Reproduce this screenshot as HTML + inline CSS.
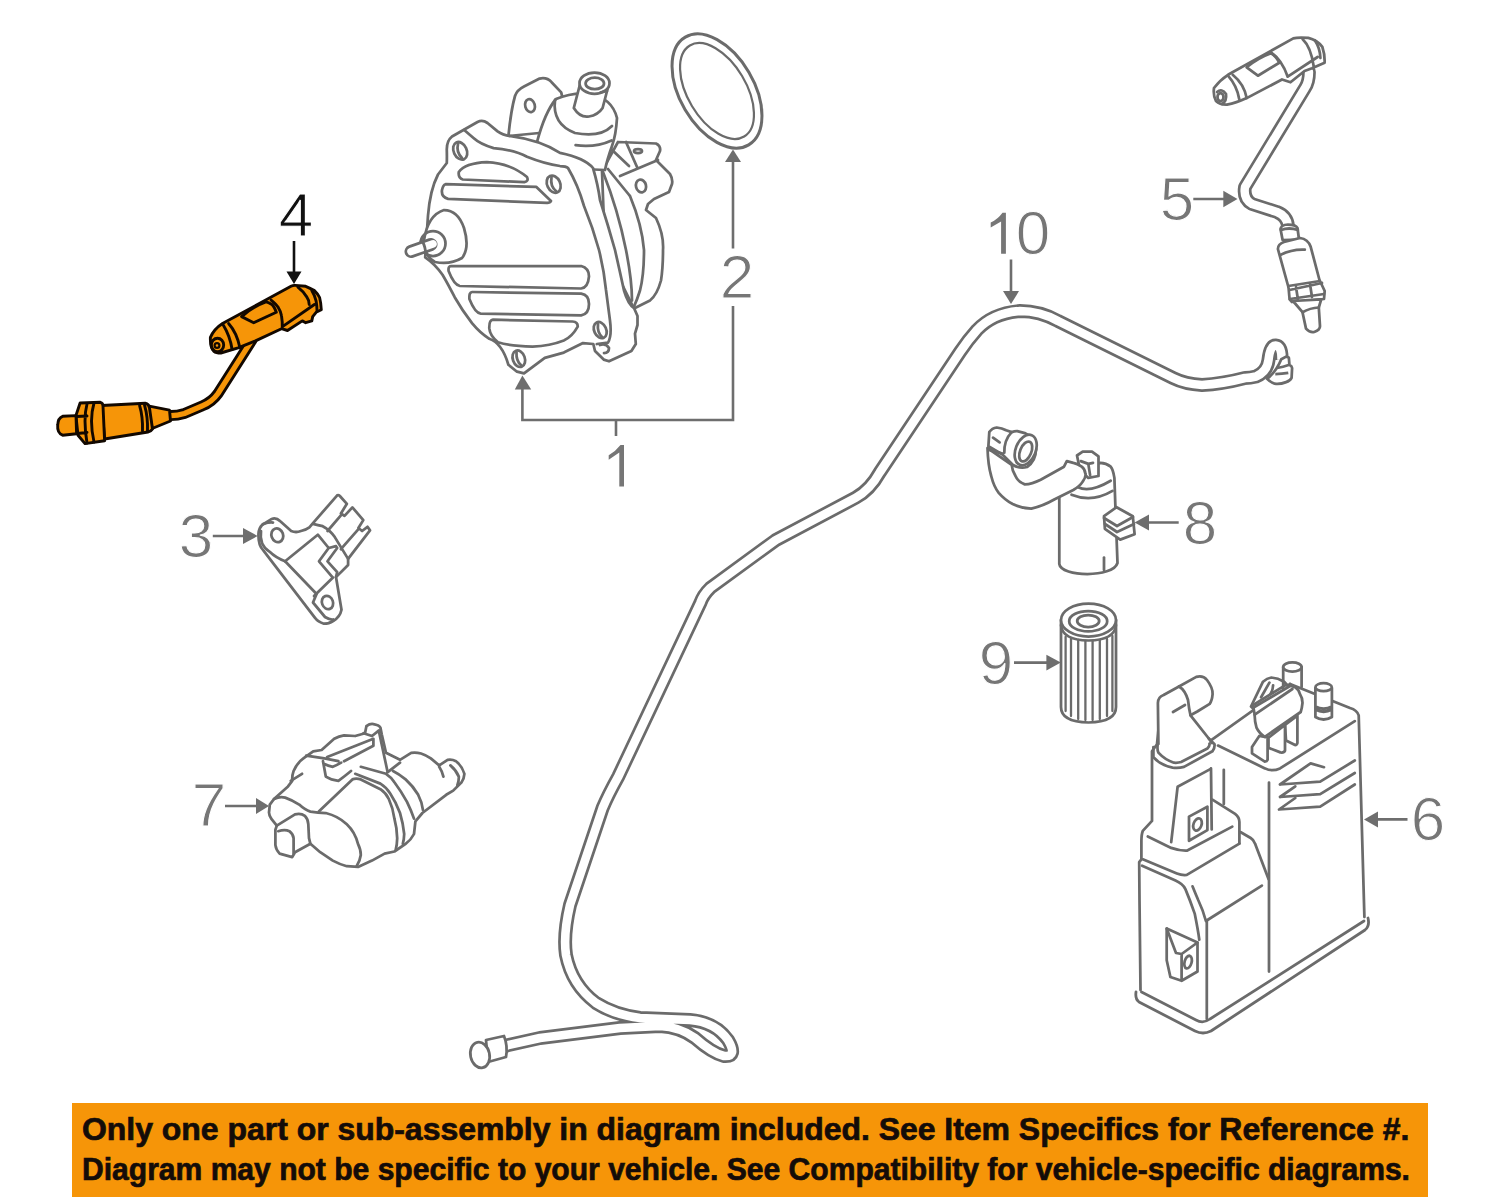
<!DOCTYPE html>
<html><head><meta charset="utf-8">
<style>
html,body{margin:0;padding:0;background:#fff;width:1500px;height:1197px;overflow:hidden}
svg{position:absolute;left:0;top:0}
.banner{position:absolute;left:72px;top:1103px;width:1355.5px;height:94px;background:#f69508}
.t{position:absolute;left:0;white-space:nowrap;font-family:"Liberation Sans",sans-serif;font-weight:bold;color:#140c08;font-size:31px;-webkit-text-stroke:0.7px #140c08;transform-origin:0 0}
</style></head><body>
<svg width="1500" height="1197" viewBox="0 0 1500 1197">
<g id="hose" fill="none" stroke-linejoin="round" stroke-linecap="butt">
<path id="hp" d="M1281.5 360 Q1282 346 1275.5 345.5 Q1270 345.5 1268.5 360 Q1267 372 1256 376.5 Q1250 378 1245 378 Q1222 384 1202 385 Q1185 384 1173 378 L1058 321 Q1040 311 1020 311 Q993 313 977 330 Q968 340 960 352 L880 472 Q870 490 855.7 497.7 L775.5 540.3 L710.3 587.9 Q703 595 700.3 603 L618.4 776.3 Q608 795 602.6 808 L570 905 Q563 935 566 955 Q572 985 596 1003 Q615 1015 640 1018 L690 1020 Q715 1022 728 1040 Q738 1057 724 1056 Q712 1053 695 1038 Q680 1027 660 1026 L620 1028 L540 1038 L500 1047" stroke="#6b6b6b" stroke-width="14"/>
<path d="M1281.5 360 Q1282 346 1275.5 345.5 Q1270 345.5 1268.5 360 Q1267 372 1256 376.5 Q1250 378 1245 378 Q1222 384 1202 385 Q1185 384 1173 378 L1058 321 Q1040 311 1020 311 Q993 313 977 330 Q968 340 960 352 L880 472 Q870 490 855.7 497.7 L775.5 540.3 L710.3 587.9 Q703 595 700.3 603 L618.4 776.3 Q608 795 602.6 808 L570 905 Q563 935 566 955 Q572 985 596 1003 Q615 1015 640 1018 L690 1020 Q715 1022 728 1040 Q738 1057 724 1056 Q712 1053 695 1038 Q680 1027 660 1026 L620 1028 L540 1038 L500 1047" stroke="#fff" stroke-width="8.6"/>
<g stroke="#6b6b6b" stroke-width="2.75" fill="#fff" stroke-linejoin="round">
<path d="M1281.3 359.3 L1286.1 356.6 Q1289 357 1288.9 358.2 L1289.4 364.7 Q1292 366 1292.1 368 L1291.6 377.8 Q1290 381 1286.1 382.1 Q1280 384.5 1274.7 383.7 Q1270 382 1267.1 378.9 Q1276 372 1281.3 359.3 Z"/>
<path d="M1276.9 368 Q1283 367 1289.4 364.7 M1275.3 374 Q1282 374 1288.3 372.9" fill="none"/>
<path d="M486 1040 L504 1036 Q508 1046 506 1057 L488 1062 Z"/>
<ellipse cx="480" cy="1055" rx="9.5" ry="13" transform="rotate(-12 480 1055)"/>
</g>
</g>
<g id="pump" stroke="#6b6b6b" stroke-width="2.75" fill="#fff" stroke-linejoin="round" stroke-linecap="round">
<!-- right ear -->
<path d="M602 171 L618 142 L656 143.5 Q661 146 660 151 L656 160 L670 174 Q673 179 672 184 L669 192 L654 199 L648 204 L646 210 L656 218 Q664 235 663 250 Q663 268 661 280.5 Q657 295 650 300.5 L634 308.5 L605 250 Z"/>
<ellipse cx="638" cy="151" rx="4" ry="2"/>
<ellipse cx="641" cy="186" rx="5" ry="6.5" transform="rotate(-15 641 186)"/>
<path d="M620 176 L658 160 M610 148 L629 166 M626 142 L637 167" fill="none"/>
<path d="M608 169 Q625 190 630 196 Q642 225 644 250 Q644 275 640 290.5 Q637 300 634 306.5" fill="none"/>
<path d="M603 172 Q618 210 626 250 Q632 280 632 300.5" fill="none"/>
<!-- left ear -->
<path d="M508.4 136 Q511 110 515 96 Q517 90 524 86.5 L539.6 78.6 Q547 77 551.6 82.2 L561.2 92.4 L570 130 Z"/>
<ellipse cx="530" cy="105.6" rx="4.8" ry="6.6" transform="rotate(-15 530 105.6)"/>
<!-- housing cylinder -->
<path d="M537 142 Q545 112 556 99 Q572 92 590 94 Q612 98 617 118 Q616 135 612 146 Q607 160 605 170 L560 168 Z"/>
<path d="M555 100 Q552 124 575 133 Q600 138 612 126" fill="none"/>
<path d="M575.6 145.2 Q595 148 611.6 140.4" fill="none"/>
<!-- top port -->
<path d="M579.8 85 L573.8 108 Q580 118 589 116.5 Q598 115 602.6 108 L608.6 85 Z"/>
<ellipse cx="594.5" cy="83.2" rx="15" ry="10.6"/>
<ellipse cx="594.8" cy="83.4" rx="9.2" ry="5.8" fill="none"/>
<path d="M600.5 92.5 L607 91" fill="none"/>
<!-- main body -->
<path d="M428 215.6 Q430 190 438 174.5 Q443 168 446.8 163 Q447 156 446.8 150.1 Q446.5 141 452 136.5 L477.5 122 Q482.5 119.5 487.5 123 L497.6 131.4 Q503 135.5 511 136.1 Q540 140 560 152.8 Q585 158 593 168 Q598 185 600 200 Q608 225 615 250 Q620 272 624 290.5 Q628 304 634 308 L637.5 316 L637.5 325 L635 333.6 L635.8 344 L631.4 351 L609 361.3 L603.7 359.6 L595 351 L593.3 344 L583 343.1 L563.8 352.6 L544.8 357.9 L524 373.4 L517 371.7 L508.4 364.8 Q502 343 489.3 338.8 Q480 333 472 323.2 Q462 310 454.7 297.2 Q448 284 442.5 274.7 Q435 264 425.2 257.3 Z"/>
<!-- flange inner edge -->
<path d="M464.2 130 L473.5 138 Q480 144 493.6 148.1 Q515 150 527 156.8 Q545 164 560 166 Q566 166 568 168 Q578 185 584 206 Q593 228 599 250 Q604 270 606 290 Q608 305 610 320.6 Q612 336 608 342.6 L596.8 344" fill="none"/>
<!-- holes -->
<ellipse cx="460.2" cy="150.8" rx="6.5" ry="9.2" transform="rotate(-25 460.2 150.8)" fill="none"/>
<path d="M458 144 Q456 152 462 158" fill="none"/>
<ellipse cx="553.7" cy="184.2" rx="6.5" ry="9" transform="rotate(-25 553.7 184.2)" fill="none"/>
<path d="M551.5 177.5 Q550 186 556 191" fill="none"/>
<ellipse cx="518.8" cy="358.7" rx="6" ry="8.5" transform="rotate(-20 518.8 358.7)" fill="none"/>
<path d="M516.5 352 Q516 361 521 365" fill="none"/>
<ellipse cx="600.2" cy="330.1" rx="6" ry="8.5" transform="rotate(-25 600.2 330.1)" fill="none"/>
<path d="M598 324 Q597 332 602 337" fill="none"/>
<path d="M600 345 Q606 343 609 348 Q609 353 604 353" fill="none"/>
<!-- ribs -->
<path d="M462.8 179.5 L524.3 182.2 Q529 181 527 177 Q510 163 486.9 162.1 Q465 163 458.8 172 Q458 178 462.8 179.5 Z" fill="none"/>
<path d="M445.5 184.2 L536.4 186.9 L551 200.9 Q550 203 547 202.9 L448.1 198.9 Q441 197 442 190 Q443 185 445.5 184.2 Z" fill="none"/>
<path d="M451 266 L581.2 266 Q589 268 589 276.4 Q588 288 581 288.5 L459.9 286 Q454 285 448.6 271 Q448 266 451 266 Z" fill="none"/>
<path d="M472 292 L581.2 293.7 Q589 295 589 304 Q589 314 581.2 315.4 L480.7 313.6 Q475 313 469.4 299 Q469 292 472 292 Z" fill="none"/>
<path d="M493 319.7 L572.5 321.5 Q578 322 577.7 326.7 Q572 337 563.8 340.5 Q550 346 532.6 346.6 Q510 346 498 342.3 Q490 336 489.3 328.4 Q489 320 493 319.7 Z" fill="none"/>
<!-- stub boss -->
<path d="M424 240 Q428 215 444 210 Q458 210 464 228 Q470 248 462 258 Q450 265 435 262 Q424 256 424 240 Z"/>
<circle cx="433" cy="243.5" r="12.5" fill="none"/>
<path d="M411 251.5 L431 244.5" fill="none" stroke-width="13" stroke-linecap="round"/>
<path d="M411 251.5 L433 243.8" fill="none" stroke="#fff" stroke-width="7.6" stroke-linecap="round"/>
<path d="M422 240.5 Q426 248 425.5 254" fill="none"/>
</g>
<g id="oring" stroke="#6b6b6b" fill="none">
<ellipse cx="717" cy="91" rx="37" ry="62.5" stroke-width="3" transform="rotate(-30.5 717 91)"/>
<ellipse cx="717" cy="91" rx="29.2" ry="53" stroke-width="2.2" transform="rotate(-30.8 717 91)"/>
</g>
<g id="filter" stroke="#6b6b6b" stroke-width="2.75" fill="none" stroke-linecap="round">
<path d="M1061 620 V707 Q1061 722 1088.5 722.5 Q1116 722 1116 707 V620" fill="#fff"/>
<ellipse cx="1088.5" cy="620" rx="27.5" ry="16.5" fill="#fff"/>
<path d="M1061 625 Q1062 640 1088.5 640.5 Q1115 640 1116 625"/>
<ellipse cx="1088.2" cy="621.2" rx="19" ry="10.2"/>
<ellipse cx="1088.2" cy="621" rx="11" ry="6"/>
<path d="M1065.6 637 V711 M1071 639 V716 M1078.2 640 V719 M1085.4 641 V720 M1092.6 641 V720 M1099.8 640 V719 M1107 639 V716 M1112.4 636 V711" stroke-width="2.3"/>
</g>
<g id="canister" stroke="#6b6b6b" stroke-width="2.75" fill="none" stroke-linejoin="round" stroke-linecap="round">
<!-- flange -->
<path d="M1136 992 Q1135 999 1139 1002 L1195 1031 Q1203 1035 1211 1031 L1365 930 Q1370 926 1368 918" stroke-width="2.8"/>
<path d="M1141.5 992 L1196 1020 Q1203 1024 1210 1019 L1364 921"/>
<!-- walls -->
<path d="M1140.5 990 L1139.5 900 L1139.2 862.1 L1141.4 859.3 L1141.4 840.8 Q1141.5 834 1142.8 830.9 L1152 820.9 L1152 751.3 L1157 744.2 L1158.4 730"/>
<path d="M1364.4 917 L1358.7 715.3 Q1357 710 1350 708 L1290 684"/>
<path d="M1206.8 1019 V921 M1269 971.5 V782.6"/>
<!-- top face -->
<path d="M1218 745.6 L1265 768.4 Q1272 772 1280 768.4 L1354.8 721.1"/>
<path d="M1209.5 741.4 L1290 684"/>
<!-- tower tube -->
<path d="M1158.4 744 L1157.9 703 Q1158 697 1163.6 695 L1179 686.5 L1196.3 676.9 Q1203 675 1207 680 Q1213 688 1212.6 694.2 Q1212 701 1209.7 703.8 L1197.3 711.5 L1190.5 715.3 L1208.8 738.5 L1212 743" fill="#fff"/>
<path d="M1179 686.5 Q1185 690 1188 700 Q1189 709 1190.5 715.3 M1173 712 L1185 705"/>
<!-- tower base -->
<path d="M1153.4 747 L1153.4 757 Q1160 765 1172.6 767.6 Q1178 768.5 1184 766.9 L1212.4 751.3 Q1215 748 1214.5 744.2 L1208.8 738.5"/>
<path d="M1157.7 744.2 Q1157 750 1158.4 752.7 Q1165 760 1174 762.7 Q1178 763 1181.1 762 L1207.4 748.5 Q1210 746 1209.5 743.5"/>
<!-- tower face -->
<path d="M1211 768.4 L1211.7 829.4 M1223.8 769.8 V803.9"/>
<path d="M1171.2 842.2 L1177.6 786.8 L1210.3 769.1"/>
<path d="M1189 816.6 L1207.4 806.7 L1207.4 830.1 L1189 840.8 Z"/>
<ellipse cx="1197.5" cy="824.5" rx="4" ry="6.3" transform="rotate(20 1197.5 824.5)"/>
<!-- steps -->
<path d="M1147.8 836.5 L1171.2 847.9 Q1180 851 1186.8 850.7 L1232.3 826.6"/>
<path d="M1212.4 799.6 L1235.1 813.8 Q1239.4 817 1239.4 822 L1239.4 843.6"/>
<path d="M1142.8 859.3 L1176.9 873.5 Q1182 875.5 1186.8 874.9 L1239.4 843.6"/>
<path d="M1142.1 865.7 L1175.5 880.6 Q1183 884 1185.4 889.1 Q1190 900 1194.7 913.6 Q1198 930 1199.3 939.7"/>
<path d="M1192.5 886.3 Q1196 895 1198.2 900 Q1203 910 1205.9 921 L1261.9 885.6"/>
<path d="M1240.8 832.3 L1250.7 838 Q1254 840 1255 843.6 L1268.5 879.1"/>
<!-- bracket -->
<path d="M1166.7 928.5 L1197.5 942.5 L1197.5 971.5 L1181.6 980.8 L1170.4 977 L1166.7 960.3 Z"/>
<path d="M1166.7 928.5 L1176 953 L1181.6 954 L1197.5 942.5 M1181.6 954 V980"/>
<ellipse cx="1188.1" cy="962.1" rx="3.5" ry="6.5" transform="rotate(15 1188.1 962.1)"/>
<!-- vents -->
<path d="M1280 784.5 L1310.6 763.4 L1324 767.2 M1280 784.5 L1320.2 781.6 L1354.8 760.5"/>
<path d="M1280 797 L1295.3 786.4 M1280 797 L1320.2 794.1 L1354.8 773"/>
<path d="M1279 809.5 L1295.3 798 M1279 809.5 L1320.2 806.6 L1354.8 784.5"/>
<!-- clip back flap -->
<path d="M1251 706.5 L1263 681.7 Q1267 678 1271.3 677.5 Q1278 678 1284.1 681.7 L1290 688 L1260 715 Z" fill="#fff"/>
<path d="M1261.1 697.3 L1269.4 682.6 M1273.1 685.3 Q1273 690 1270.3 694.5"/>
<!-- legs -->
<path d="M1286 740.5 L1295.1 745.1 Q1297 745 1297.4 743 L1297.4 715.7 L1285 724.9 Z" fill="#fff"/>
<path d="M1268.5 737.7 L1268.5 747.8 L1280.4 752.4 Q1284 753 1285 750.6 L1285 724.9 Z" fill="#fff"/>
<path d="M1259.3 735.9 L1252 746.9 L1252 753.3 L1264.8 761.6 Q1267 761.5 1267.6 759.8 L1267.6 737.3 Z" fill="#fff"/>
<!-- clip main -->
<path d="M1252.9 705.1 L1285 685.3 Q1291 685 1295.1 687.2 Q1299 690 1299.7 693.6 Q1302.5 698 1302.5 702.8 Q1302 708 1300.7 712 L1264.8 736.8 Q1259 733 1256.5 727.6 Q1254.5 721 1254.7 714.7 Z" fill="#fff"/>
<path d="M1254.7 714.7 L1292.4 689 M1253.5 707.5 L1290 686"/>
<!-- ports -->
<path d="M1283.2 667 V688 M1301.6 667 V687" />
<ellipse cx="1292.4" cy="667" rx="9.2" ry="4.6" fill="#fff"/>
<path d="M1315.4 688 V717 Q1323.6 722 1331.9 717 V688 M1315.4 706.5 Q1323.6 711 1331.9 706.5 M1315.4 709.5 Q1323.6 714 1331.9 709.5" fill="#fff"/>
<ellipse cx="1323.6" cy="687.2" rx="8.2" ry="4" fill="#fff"/>
</g>
<g id="solenoid" stroke="#6b6b6b" stroke-width="2.75" fill="#fff" stroke-linejoin="round" stroke-linecap="round">
<!-- cylinder -->
<path d="M1059.3 494.7 V564 C1061 577 1113 578 1117.5 563 L1115.3 504 L1114.4 477.9 Q1113 469 1110.7 466.7 Q1106 463 1100.4 462.9 L1077 470 Z"/>
<path d="M1078 487.2 Q1090 493 1110.7 480.7" fill="none"/>
<path d="M1071.5 494.7 Q1092 503 1112.5 490.9" fill="none"/>
<path d="M1104 557.6 V570" fill="none"/>
<!-- bolt -->
<path d="M1077 455.5 L1082.7 451.7 L1092 451.7 L1098.5 456.4 L1098.5 476 L1088.3 477.9 L1080 470 Z"/>
<path d="M1080.8 461.1 L1088.3 463.9 L1093 462.9 M1088.3 463.9 L1090.1 475.1" fill="none"/>
<!-- hose -->
<path d="M987.5 448 Q988 465 991.2 476 Q994 487 998.7 492.8 Q1005 500 1012.7 504 Q1022 508.5 1031.3 508.7 Q1043 506 1054.7 499.3 L1073.3 490 Q1080 486 1082.7 481.6 Q1086 477 1085.5 474.1 Q1085 469 1081.7 466.7 Q1077 463.5 1073.3 462.9 L1066.8 461.1 L1064 466.7 L1040.7 479.7 Q1032 484 1024.8 484.4 Q1018 482 1015.5 476 Q1012 470 1011.7 464.8 Z"/>
<!-- fitting collar -->
<path d="M988.4 446.1 L989.3 432.1 Q992 428 996.8 427.5 Q1002 428 1006.1 430.3 L1011.7 432.1 Q1015 431 1017.3 431.2 L1024.8 433.1 Q1034 437 1036 449 Q1036 461 1027 467 Q1020 469 1013 465 L1002.4 454.5 Z"/>
<path d="M993 437.7 L999.6 442.4 M989.3 449.9 L1002.4 453.6 M1004.3 452.7 Q1004 440 1011.7 432.1" fill="none"/>
<ellipse cx="1025.7" cy="450" rx="10" ry="16" transform="rotate(22 1025.7 450)" fill="#fff"/>
<ellipse cx="1025.7" cy="451.5" rx="5.6" ry="10.5" transform="rotate(22 1025.7 451.5)" fill="none"/>
<!-- clip -->
<path d="M1104 516.2 L1116.6 507.2 L1132.8 516.2 L1134.6 534.2 L1120.2 539.6 L1104.9 528.8 Z"/>
<path d="M1104 518 L1117 526 L1133 517 M1105 524 L1117 532 L1134 524" fill="none"/>
</g>
<g id="sensor5" stroke="#6b6b6b" stroke-width="2.75" fill="#fff" stroke-linejoin="round" stroke-linecap="round">
<!-- cable (double line tube) -->
<path d="M1309 72 Q1309 82 1305 88 L1245 187 Q1243 199 1252 204 L1277 212 Q1287 216 1288 226" fill="none" stroke-width="13.8"/>
<path d="M1309 72 Q1309 82 1305 88 L1245 187 Q1243 199 1252 204 L1277 212 Q1287 216 1288 226" fill="none" stroke="#fff" stroke-width="8.4"/>
<!-- connector -->
<path d="M1214 88 Q1220 80 1228 74.8 L1293.3 38.4 Q1298 37 1308.3 37.9 Q1317 40 1322.3 46.8 Q1325 55 1324.6 62.7 L1312 68.3 L1304.5 71 L1290.5 82.3 L1282 79.5 L1246.7 98.1 Q1236 103 1227 104.7 Q1220 105 1216 101 Q1213 96 1214 88 Z"/>
<path d="M1228 75.7 Q1237 86 1239.2 99 M1232.7 74.8 Q1244 84 1246.7 98.1" fill="none"/>
<ellipse cx="1220.5" cy="97" rx="3" ry="4" fill="none"/>
<path d="M1217 92 Q1222 88 1226 94 Q1227 101 1222 104" fill="none"/>
<path d="M1246.7 67.3 L1257.9 75.7 L1279.3 62.7 Q1276 56 1271 53.3 Q1258 58 1246.7 67.3" fill="none"/>
<path d="M1271 52.4 Q1282 60 1287.7 76.7 L1317.6 57 M1302.7 39.3 Q1311 47 1313.9 67.3 M1314.8 40.3 Q1320 48 1320.4 58" fill="none"/>
<!-- body -->
<path d="M1282.6 240 L1280.5 229 Q1281 225 1288 224.5 Q1296 224.5 1297.5 228 L1299 239.5 Z"/>
<path d="M1281 230 Q1289 227 1297.8 230" fill="none"/>
<path d="M1277.9 249 Q1278 244 1284 242 L1300 238 Q1308 239 1310.7 246.8 L1320 282 L1288.4 287 Z"/>
<path d="M1280.3 255 Q1292 249 1304.8 249.7" fill="none"/>
<path d="M1288.4 286 L1320 281 L1324.7 291 L1324 299 L1292 302 L1289.6 299.4 Z"/>
<path d="M1289.5 290 L1322 283 M1290 299 L1324 294 M1296 287 L1298 300 M1310 284 L1312 297" fill="none"/>
<path d="M1293 301 L1302.5 312.2 L1306 328.6 Q1310 333 1314.2 332 Q1320 330 1320 326.2 L1318.8 307.5 L1321.2 299.4 Z"/>
<path d="M1302.5 312.2 Q1310 308 1318.8 307.5" fill="none"/>
</g>
<g id="part3" stroke="#6b6b6b" stroke-width="2.75" fill="#fff" stroke-linejoin="round" stroke-linecap="round">
<path d="M258.5 533.5 Q259 528 262.1 525 L271.8 518.9 Q276 517 280.3 521.3 L291.2 531 Q296 533 300.9 531 Q306 530 309.4 527.4 L313 523.2 L337.2 495.3 Q339 494.5 340.3 496.5 L346.9 503.8 L340.9 513.5 L344.5 515.9 L352.4 507.4 L363.3 520.1 L358.4 528 L362.1 531 L367.5 526.8 L370 530.4 L348.1 558.9 L348.1 565 L336 577.1 L341.5 609.8 Q340 617 333.6 620.7 Q328 624 323.9 623.7 Q318 622 315.4 618.3 L263.3 550.4 Q258 545 258.5 533.5 Z"/>
<path d="M261 531 Q259 545 269.4 551.6 Q276 558 285.1 561.3 L316.6 594 L313 602.5 L325 617 Q330 620 333 619.5" fill="none"/>
<path d="M263 524 Q270 522 273 522.6" fill="none"/>
<ellipse cx="277.3" cy="535.3" rx="5.8" ry="7" transform="rotate(-20 277.3 535.3)" fill="none"/>
<ellipse cx="327.5" cy="602.5" rx="5.5" ry="6.8" transform="rotate(-20 327.5 602.5)" fill="none"/>
<path d="M285.1 561.3 L317.8 534.7 L328.7 548 L336 546.2 M328.7 548 L319 561.3 L332.4 577.1 M327.5 561.3 L337.2 572.2 L336 577 M313 523.8 Q318 525 322.7 526.2 Q330 530 334.8 537.1 L348.1 558.9 M327.5 531 L340.9 515.3 M340.9 549.2 L357.8 529.8 M336 546.2 L337.2 548 L327.5 561.3 M314 596 L333 577.5" fill="none"/>
</g>
<g id="part7" stroke="#6b6b6b" stroke-width="2.75" fill="#fff" stroke-linejoin="round" stroke-linecap="round">
<path d="M269.8 804.6 L274 799 L288 786.4 L292.2 780.8 Q292 775 293.6 771 Q297 763 303.4 758.4 L313.2 751.4 L321.6 750 L334.2 738.8 Q339 736 344 735.3 L355.2 736 L365 733.2 L366.4 726.2 Q370 723.5 373.4 724.1 Q379 725 380.4 727.6 L381.8 734.6 L386 752.8 L400 759.8 L411.2 752.8 Q416 752 421 753.5 Q426 755 430.8 758.4 L439.2 765.4 L447.6 759.8 Q452 759 456 761.2 Q462 766 464.4 773.8 Q464 779 461.6 782.2 L453.2 790.6 L446.2 794.8 L422.4 813 L415.4 821.4 L414 834 Q411 840 405.6 843.8 L394.4 851.5 L384.6 853.6 L372 860.6 L358 866.9 L346.8 866.2 Q339 864 332.8 860.6 L320.2 852.2 L310.4 843.8 L295 852.2 L292.2 857.1 L279.6 853.6 Q276 850 275.4 845.2 L275.4 829.8 L276.8 825.6 L271.2 818.6 Q268.5 814 269.1 811.6 Z"/>
<path d="M276.8 825.6 L295 814.4 Q301 813 304.8 815.8 Q308 819 308.3 824.2 L309 838.2 L310.4 843.8 M278.2 831.2 Q285 829 289.4 831.2 Q293 834 293.6 838.2 L293.6 853.6" fill="none"/>
<path d="M274 799 Q280 796 285.2 797.6 Q292 800 299.2 804.6 Q305 810 310.4 811.6 Q318 813 325.8 813 Q338 816 346.8 824.2 Q355 832 358 843.8 Q361 850 360.8 855 Q360 861 356.6 866.2" fill="none"/>
<path d="M318.8 811.6 L352.4 779.4 Q356 778 360.8 779.4 L380.4 789.2 Q386 793 388.8 799 Q393 808 394.4 818.6 Q397 828 397.2 838.2 Q397 845 395.8 849.4" fill="none"/>
<path d="M355.2 773.8 L380.4 783.6 Q386 787 390.2 793.4 Q396 802 400 813 Q403 823 404.2 834 Q404 840 402.8 843.8" fill="none"/>
<path d="M360.8 766.8 L386 773.8 Q391 777 394.4 782.2 Q401 791 407 801.8 Q411 810 414 818.6" fill="none"/>
<path d="M393 771 Q399 774 405.6 779.4 Q413 786 418.2 794.8 Q422 802 423 810.2" fill="none"/>
<path d="M387.4 772.4 L400 762.6 M439.2 766.8 Q442 771 443.4 776.6 M450.4 765.4 Q456 770 458.8 776.6 Q459 781 457.4 785" fill="none"/>
<path d="M306.2 755.6 L324.4 758.4 L338.4 761.2 M323 761.2 L325.8 776.6 Q331 780 338.4 780.8 Q345 776 351 771 M324.4 764 Q328 766 332.8 766.8 Q337 765 341.2 762.6" fill="none"/>
<path d="M327.2 757 L373.4 738.8 L373.4 745.8 L344 761.2 M363.6 733.2 L372 736 L379 730.4 M379 731.8 L387.4 771 M302 773.8 L290.8 780.8" fill="none"/>
</g>
<g id="sensor4" stroke="#120800" stroke-width="2.9" fill="#f69508" stroke-linejoin="round" stroke-linecap="round">
<!-- cable -->
<path d="M252 340 L218 393.5 Q212 402 202 406 L184.4 413.5 Q176 416 168 415.5" fill="none" stroke-width="11"/>
<path d="M252 340 L218 393.5 Q212 402 202 406 L184.4 413.5 Q176 416 168 415.5" fill="none" stroke="#f69508" stroke-width="5.2"/>
<!-- lower body -->
<path d="M148 405.8 L169.5 410.2 L170.5 421 L152.2 428.5 Z"/>
<path d="M101.8 405.5 L145.2 403.2 Q149 404 149.5 408 L152.5 429 Q151 431.5 148 432 L104.6 439 Z"/>
<path d="M139.6 405.5 Q143 417 142.5 431 M144.5 405 Q148 417 147.5 431" fill="none"/>
<path d="M80.1 403 L100.4 402.3 Q103 403 103 406 L104.6 440.8 L85 443.6 L78 435.2 L75.9 415.6 Z"/>
<path d="M76.5 416.5 L87 416 M77.5 433.5 L87 432.5 M87 404 Q83 419 87 443 M94 403 Q89 420 94 442" fill="none"/>
<path d="M62.6 416.3 L76 415.6 L76.6 433.8 L62.6 435.2 Q57 433 57.7 425 Q58 418 62.6 416.3 Z"/>
<!-- connector -->
<path d="M210.4 337.4 Q214 329 222.5 323.5 L291 286.3 Q293 285.2 295.3 285.4 L305.7 286.3 Q310 288 314.4 290.6 Q318 294 319.6 297.5 Q321 303 321.3 309.7 L316.1 312.3 L312.7 316.6 L311.8 320.9 L305.7 322.7 L302.3 320.9 L287.5 330.5 L281.5 328.7 L255.5 340.9 L238.1 347.8 L220.8 353 Q216 353 213.9 351.3 Q210 348 210.4 337.4 Z"/>
<path d="M223.4 325.3 Q230 336 232.1 349.5 M228.6 323.5 Q237 333 239.9 347.8" fill="none"/>
<ellipse cx="217.5" cy="345" rx="6.2" ry="6.8" fill="none"/>
<circle cx="217" cy="345.5" r="2.4" fill="none" stroke-width="2.2"/>
<path d="M241.6 316.6 L253.7 322.7 L276.3 312.3 Q274 306 271.9 304.5 Q268 302 265.9 301.9 Q252 307 241.6 316.6 Z" fill="none"/>
<path d="M271.1 300.1 Q277 305 278 307.1 Q281 312 281.5 315.7 Q282.5 322 282.3 327 M297.9 287.1 Q304 292 306.6 296.7 Q309 300 309.2 304.5 M311.8 290.6 Q315 296 316.1 301 Q317 306 317 310.5 M283.2 326.1 L314.4 304.5" fill="none"/>
</g>
<g id="labels" font-family="Liberation Sans, sans-serif" font-size="62" fill="#767676" text-anchor="middle">
<text x="737" y="298">2</text>
<text x="1033" y="254">0</text>
<text x="1177" y="220.3">5</text>
<text x="196" y="557">3</text>
<text x="1200" y="543.5">8</text>
<text x="996" y="683.5">9</text>
<text x="209" y="826">7</text>
<text x="1428" y="839.5">6</text>
<text x="296" y="235.6" fill="#111">4</text>
<path d="M619.3 486.5V452.5L608.7 459.8V455.2Q616 451 620.5 445H624V486.5Z" stroke="none"/>
<path d="M1001.1 253.8V221.5L990.7 227.4V222.6Q998 219 1002.5 212.7H1005.9V253.8Z" stroke="none"/>
</g>
<g id="thin" font-family="Liberation Sans, sans-serif" font-size="62" fill="none" stroke="#fff" stroke-width="1.1" text-anchor="middle">
<text x="737" y="298">2</text>
<text x="1033" y="254">0</text>
<text x="1177" y="220.3">5</text>
<text x="196" y="557">3</text>
<text x="1200" y="543.5">8</text>
<text x="996" y="683.5">9</text>
<text x="209" y="826">7</text>
<text x="1428" y="839.5">6</text>
<text x="296" y="235.6">4</text>
</g>
<g id="leaders" stroke="#6e6e6e" stroke-width="2.6" fill="none">
<path d="M294 241V274" stroke="#111"/>
<path d="M733 248.5V160M733 306V420H522.4V388M616 420V436M1011 259.5V292M1193.3 199H1225M212.8 536H245M1178.7 522.5H1147M1014 662.6H1048M225 806H257M1407.5 819.4H1376"/>
</g>
<g id="heads" fill="#6e6e6e">
<path d="M294 284L286.5 271.5H301.5Z" fill="#111"/>
<path d="M733 149.5L725 162H741Z"/>
<path d="M522.4 375.6L514.8 389.6H531.2Z"/>
<path d="M1011 304L1003 291H1019Z"/>
<path d="M1237.5 199L1223.3 190.7V207.3Z"/>
<path d="M257.6 536L243 528V544Z"/>
<path d="M1134.6 522.5L1149 514.5V530.5Z"/>
<path d="M1060.8 662.6L1046.4 654.8V670.4Z"/>
<path d="M269 806L256 798V814Z"/>
<path d="M1364 819.4L1378 811.4V827.4Z"/>
</g>
</svg>
<div class="banner"></div>
<div class="t" id="l1" style="top:1112px;left:81.6px;transform:scaleX(1.030)">Only one part or sub-assembly in diagram included. See Item Specifics for Reference #.</div>
<div class="t" id="l2" style="top:1151.8px;left:82.4px;transform:scaleX(0.9696)">Diagram may not be specific to your vehicle. See Compatibility for vehicle-specific diagrams.</div>
</body></html>
